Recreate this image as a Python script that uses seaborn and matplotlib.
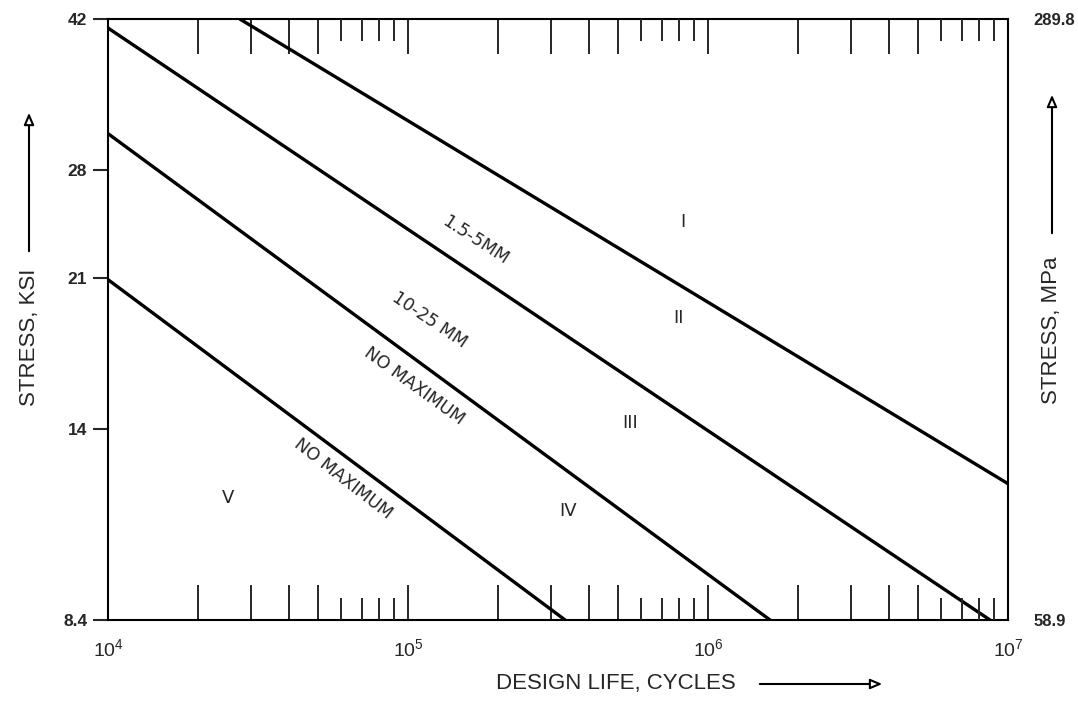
import numpy as np
import pandas as pd
import matplotlib
matplotlib.use("Agg")
import matplotlib.pyplot as plt
import seaborn as sns
from matplotlib.ticker import FixedLocator, NullFormatter, NullLocator

# S-N lines: start / end points (cycles, ksi)
line_names = ["A", "B", "C", "D"]
cycles_start = [2.75e4, 1e4, 1e4, 1e4]
cycles_end = [1e7, 8.71e6, 1.61e6, 3.34e5]
stress_start = [42.0, 41.0, 30.9, 20.9]
stress_end = [12.1, 8.4, 8.4, 8.4]

ksi_ticks = [8.4, 14, 21, 28, 42]
ksi_labels = ["8.4", "14", "21", "28", "42"]
mpa_ticks = [8.4, 42]
mpa_labels = ["58.9", "289.8"]
decades = [1e4, 1e5, 1e6, 1e7]
decade_labels = ["10$^4$", "10$^5$", "10$^6$", "10$^7$"]

# region numerals and line notes (axes fraction positions)
region_text = ["I", "II", "III", "IV", "V"]
region_x = [0.639, 0.634, 0.580, 0.511, 0.133]
region_y = [0.662, 0.502, 0.328, 0.181, 0.203]
note_text = ["1.5-5MM", "10-25 MM", "NO MAXIMUM", "NO MAXIMUM"]
note_x = [0.408, 0.357, 0.340, 0.261]
note_y = [0.632, 0.499, 0.389, 0.235]
note_rot = [-33, -34, -36, -38]

df = pd.DataFrame({
    "line": line_names * 2,
    "cycles": cycles_start + cycles_end,
    "stress": stress_start + stress_end,
})

sns.set_style("white")
plt.rcParams["font.family"] = ["Liberation Sans", "DejaVu Sans"]
plt.rcParams["mathtext.fontset"] = "custom"
plt.rcParams["mathtext.rm"] = "Liberation Sans"

fig = plt.figure(figsize=(10.78, 7.02), dpi=100)
ax = fig.add_axes([0.1002, 0.1168, 0.8349, 0.8561])

sns.lineplot(data=df, x="cycles", y="stress", hue="line",
             palette={n: "black" for n in line_names}, linewidth=2.4,
             legend=False, ax=ax)

ax.set_xscale("log")
ax.set_yscale("log")
ax.set_xlim(1e4, 1e7)
ax.set_ylim(8.4, 42)
ax.set_xlabel("")
ax.set_ylabel("")
for s in ax.spines.values():
    s.set_linewidth(1.5)
    s.set_color("black")

# short inner ticks 6-9 on a twin axis (top and bottom)
ax3 = ax.twiny()
ax3.set_xscale("log")
ax3.set_xlim(1e4, 1e7)
ax3.xaxis.set_major_locator(NullLocator())
ax3.xaxis.set_minor_locator(FixedLocator([m * d for d in decades[:-1] for m in (6, 7, 8, 9)]))
ax3.xaxis.set_minor_formatter(NullFormatter())
ax3.tick_params(axis="x", which="minor", direction="in", length=16, width=1.4,
                top=True, bottom=True, labeltop=False, labelbottom=False)
for s in ax3.spines.values():
    s.set_visible(False)

# right axis in MPa
ax2 = ax.twinx()
ax2.set_yscale("log")
ax2.set_ylim(8.4, 42)
ax2.yaxis.set_major_locator(FixedLocator(mpa_ticks))
ax2.set_yticklabels(mpa_labels)
ax2.yaxis.set_minor_locator(NullLocator())
ax2.tick_params(axis="y", which="major", length=0, labelsize=12, pad=18)
for t in ax2.get_yticklabels():
    t.set_fontweight("bold")
for s in ax2.spines.values():
    s.set_visible(False)

# y ticks (ksi) on the left
ax.yaxis.set_major_locator(FixedLocator(ksi_ticks))
ax.set_yticklabels(ksi_labels)
ax.yaxis.set_minor_locator(NullLocator())
ax.tick_params(axis="y", which="major", direction="out", length=11, width=1.5,
               labelsize=12.5, pad=4, left=True, right=False)
for t in ax.get_yticklabels():
    t.set_fontweight("bold")

# x ticks: decades labelled, 2-5 long inner ticks
ax.xaxis.set_major_locator(FixedLocator(decades))
ax.set_xticklabels(decade_labels)
ax.xaxis.set_minor_locator(FixedLocator([m * d for d in decades[:-1] for m in (2, 3, 4, 5)]))
ax.xaxis.set_minor_formatter(NullFormatter())
ax.xaxis.set_ticks_position("both")
ax.tick_params(axis="x", which="both", direction="in", length=25, width=1.4,
               top=True, bottom=True, labeltop=False, labelbottom=True,
               labelsize=14, pad=13)

for txt, x, y in zip(region_text, region_x, region_y):
    ax.text(x, y, txt, transform=ax.transAxes, fontsize=13,
            family=["DejaVu Sans"], ha="center", va="center")
for txt, x, y, r in zip(note_text, note_x, note_y, note_rot):
    ax.text(x, y, txt, transform=ax.transAxes, fontsize=12.5,
            family=["DejaVu Sans"], rotation=r, rotation_mode="anchor",
            ha="center", va="center")

# axis titles with arrows
W, H = 1078, 702
fig.text(616 / W, 1 - 684 / H, "DESIGN LIFE, CYCLES", fontsize=16,
         ha="center", va="center")
fig.text(29 / W, 1 - 337 / H, "STRESS, KSI", fontsize=16, rotation=90,
         ha="center", va="center")
fig.text(1052 / W, 1 - 330 / H, "STRESS, MPa", fontsize=16, rotation=90,
         ha="center", va="center")
arrow = dict(arrowstyle="-|>,head_length=0.7,head_width=0.3", ec="black",
             fc="white", lw=1.5)
ax.annotate("", xy=(885 / W, 1 - 684 / H), xytext=(757 / W, 1 - 684 / H),
            xycoords="figure fraction", arrowprops=arrow, annotation_clip=False)
ax.annotate("", xy=(29 / W, 1 - 110 / H), xytext=(29 / W, 1 - 254 / H),
            xycoords="figure fraction", arrowprops=arrow, annotation_clip=False)
ax.annotate("", xy=(1052 / W, 1 - 92 / H), xytext=(1052 / W, 1 - 236 / H),
            xycoords="figure fraction", arrowprops=arrow, annotation_clip=False)

fig.savefig("out.png", dpi=100)
